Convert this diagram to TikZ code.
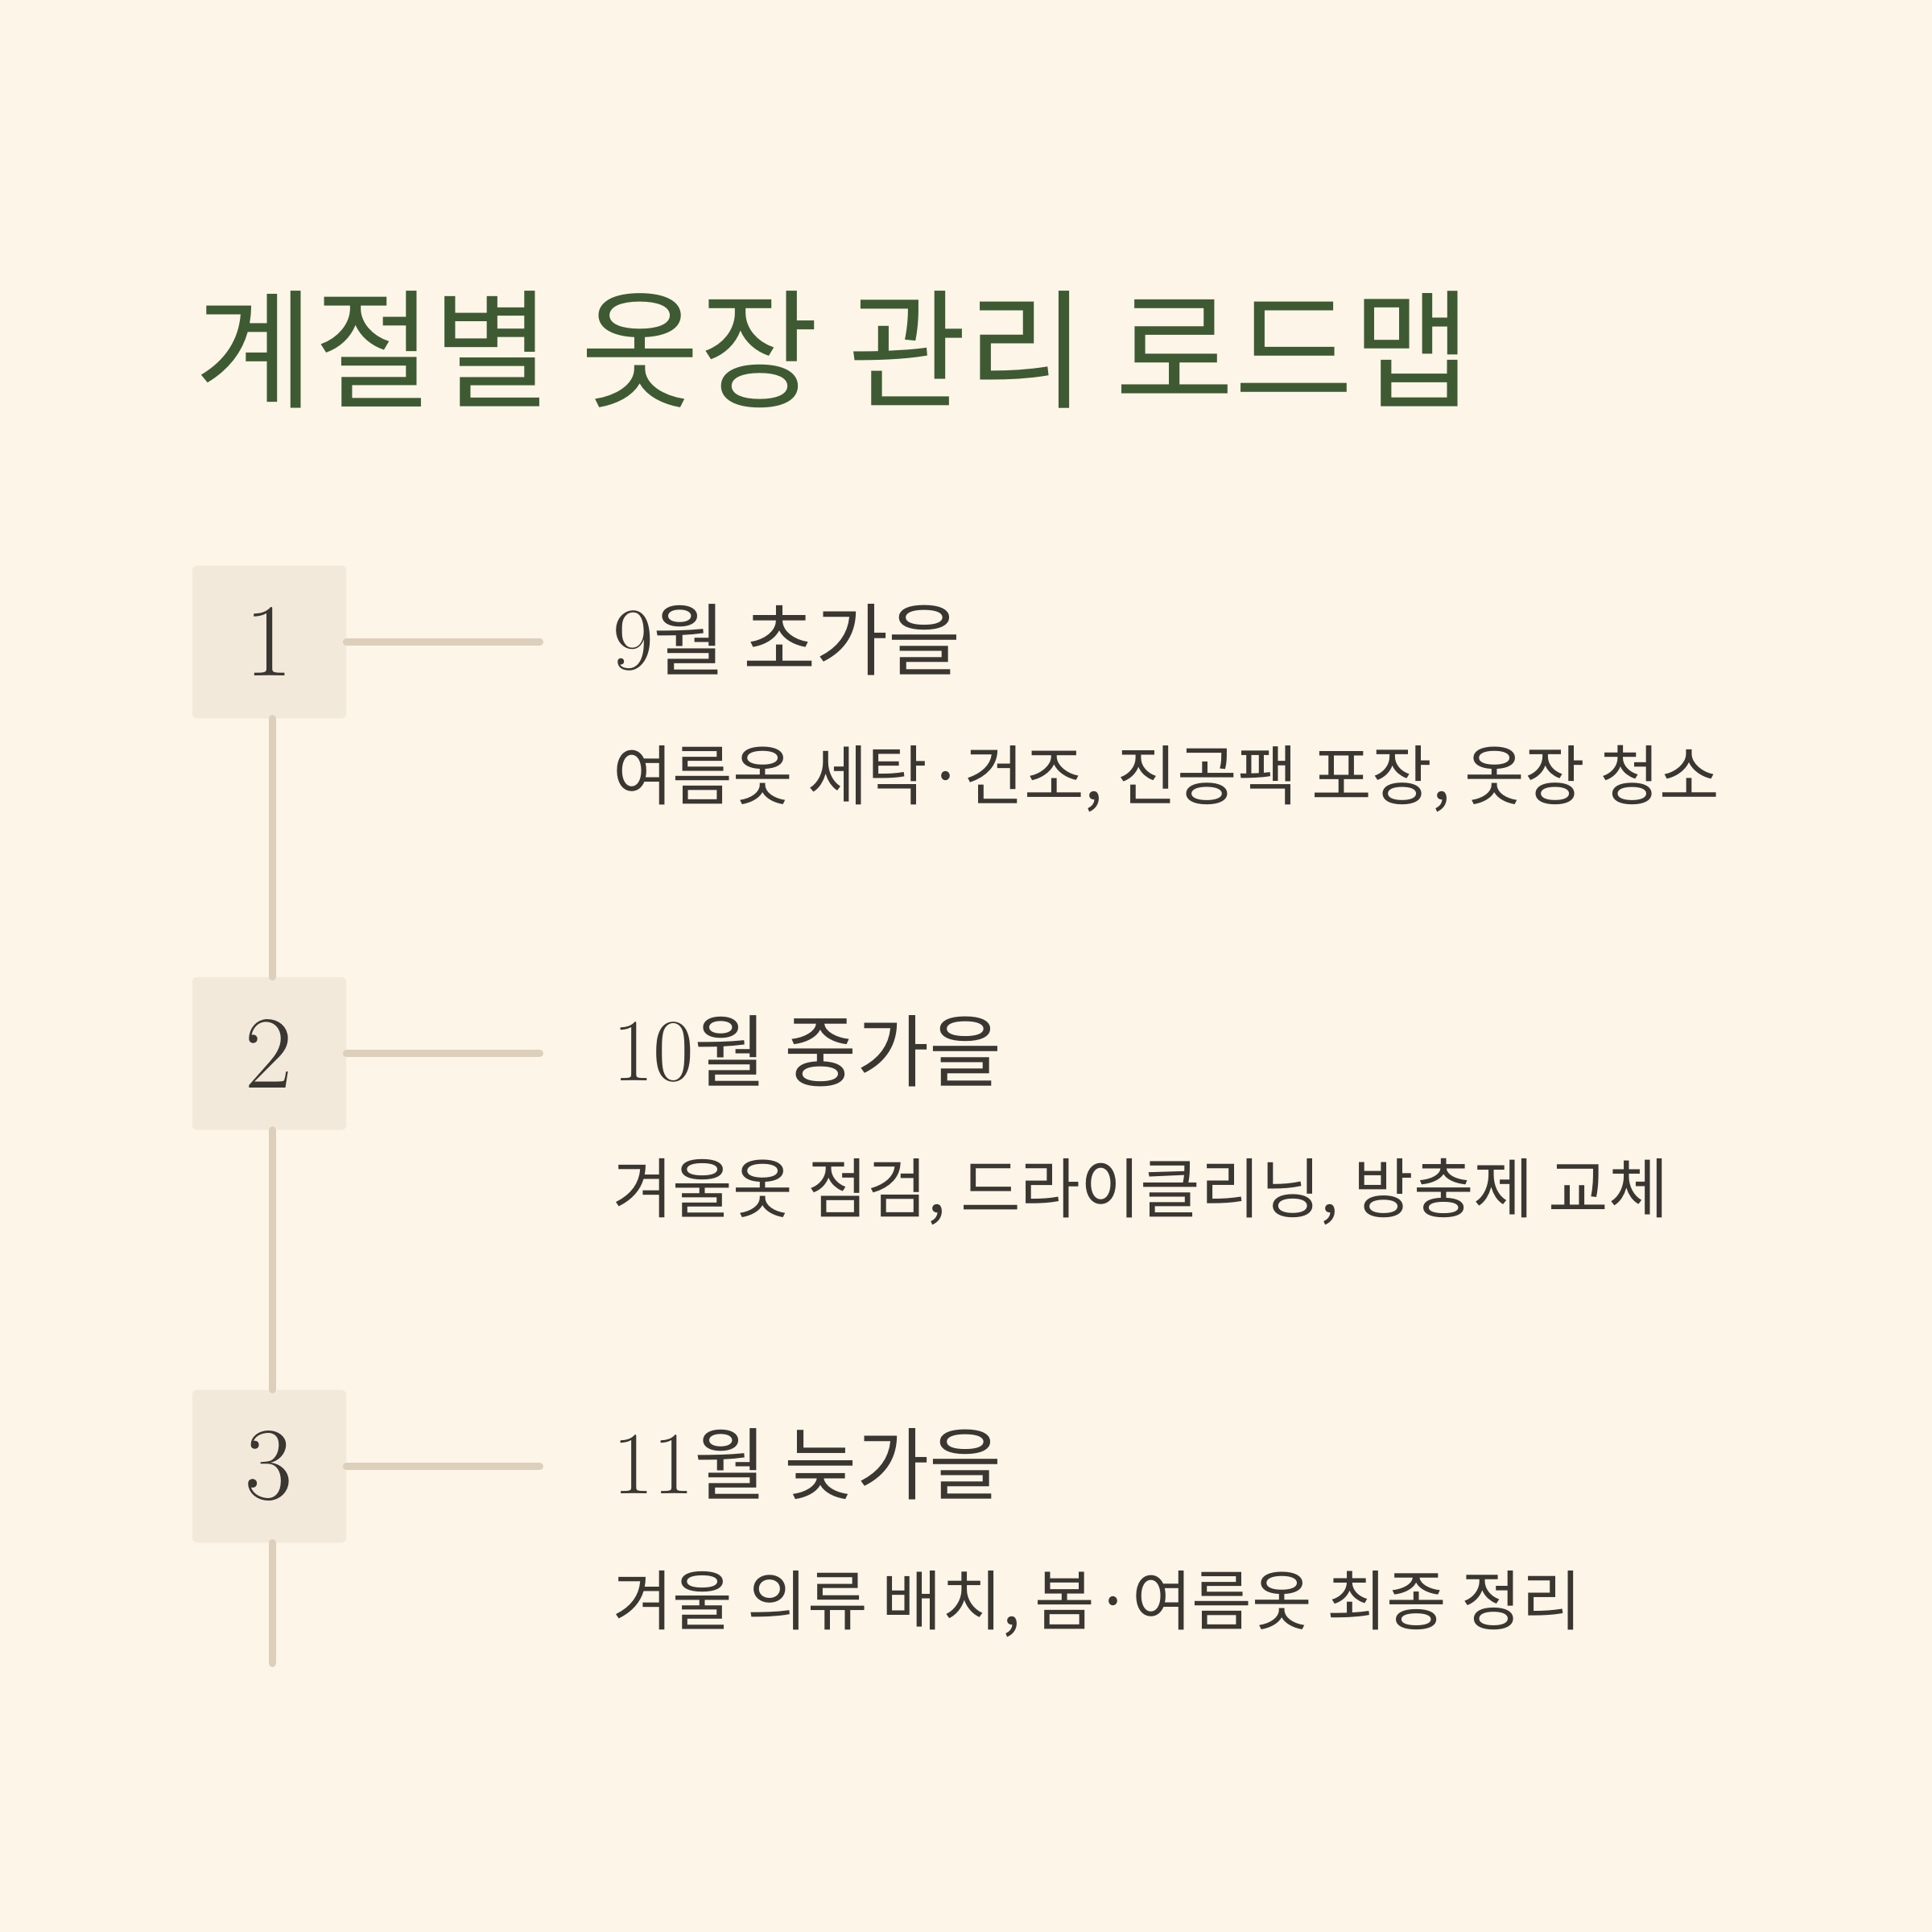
\documentclass[tikz,border=0pt]{standalone}
\usepackage{fontspec}
\newfontfamily\kr{Noto Sans CJK KR}
\definecolor{bg}{HTML}{FDF5E7}
\definecolor{boxc}{HTML}{F3E9DA}
\definecolor{linec}{HTML}{DCCFBC}
\definecolor{titlec}{HTML}{3E5A32}
\definecolor{txt}{HTML}{3A3631}
\tikzset{
 numbox/.style={fill=boxc,rounded corners=4pt,minimum width=125pt,minimum height=124pt,inner sep=0pt,text=txt,font=\fontsize{84}{84}\selectfont},
 conn/.style={draw=linec,line width=6pt,line cap=round},
 head/.style={anchor=west,inner sep=0pt,text=txt,font=\kr\fontsize{64}{64}\selectfont},
 sub/.style={anchor=west,inner sep=0pt,text=txt,font=\kr\fontsize{53}{53}\selectfont}
}
\begin{document}
\begin{tikzpicture}[x=1pt,y=-1pt]
\fill[bg] (0,0) rectangle (1568,1568);
\useasboundingbox (0,0) rectangle (1568,1568);
\node[anchor=base west,inner sep=0pt,text=titlec,font=\kr\fontsize{105}{105}\selectfont] (title) at (158,323) {계절별 옷장 관리 로드맵};
\coordinate (e) at (221,1350);
\node[numbox] (b1) at (218.5,521) {1};
\node[numbox] (b2) at (218.5,855) {2};
\node[numbox] (b3) at (218.5,1190) {3};
\draw[conn] (b1.south -| 221,0) -- (b2.north -| 221,0);
\draw[conn] (b2.south -| 221,0) -- (b3.north -| 221,0);
\draw[conn] (b3.south -| 221,0) -- (e);
\coordinate (c1) at (438,521);
\coordinate (c2) at (438,855);
\coordinate (c3) at (438,1190);
\draw[conn] (b1.east) -- (c1);
\draw[conn] (b2.east) -- (c2);
\draw[conn] (b3.east) -- (c3);
\node[head] (h1) at (497,519) {{\rmfamily\fontsize{72}{72}\selectfont 9}월 초가을};
\node[head] (h2) at (497,853) {{\rmfamily\fontsize{72}{72}\selectfont 10}월 중가을};
\node[head] (h3) at (497,1188) {{\rmfamily\fontsize{72}{72}\selectfont 11}월 늦가을};
\node[sub] (s1) at (497,632) {여름옷 세탁·건조, 진공팩 포장, 옷장 청소};
\node[sub] (s2) at (497,967) {겨울옷 점검, 드라이클리닝, 방충제 교체};
\node[sub] (s3) at (497,1302) {겨울 의류 배치, 봄·여름옷 최종 정리};
\end{tikzpicture}
\end{document}
